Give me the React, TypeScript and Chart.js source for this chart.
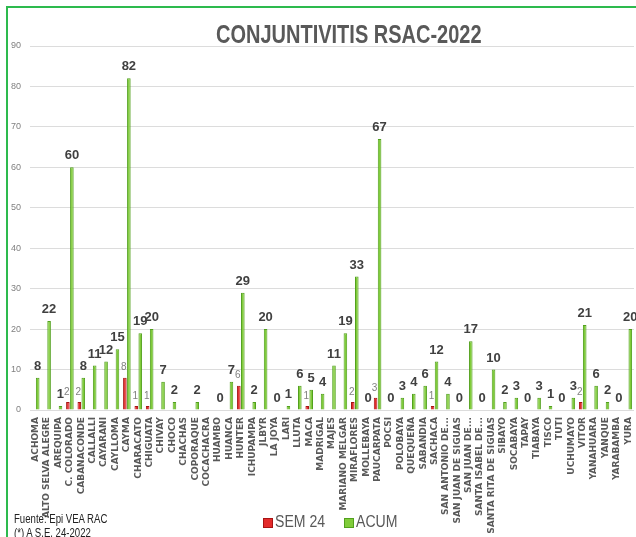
import React, { useEffect, useRef } from "react";
import { Chart, registerables } from "chart.js";

Chart.register(...registerables);

const categories = [
  "ACHOMA", "ALTO SELVA ALEGRE", "AREQUIPA", "C. COLORADO", "CABANACONDE", "CALLALLI",
  "CAYARANI", "CAYLLOMA", "CAYMA", "CHARACATO", "CHIGUATA", "CHIVAY", "CHOCO", "CHACHAS",
  "COPORAQUE", "COCACHACRA", "HUAMBO", "HUANCA", "HUNTER", "ICHUPAMPA", "JLBYR", "LA JOYA",
  "LARI", "LLUTA", "MACA", "MADRIGAL", "MAJES", "MARIANO MELGAR", "MIRAFLORES", "MOLLEBAYA",
  "PAUCARPATA", "POCSI", "POLOBAYA", "QUEQUEÑA", "SABANDIA", "SACHACA", "SAN ANTONIO DE...",
  "SAN JUAN DE SIGUAS", "SAN JUAN DE...", "SANTA ISABEL DE...", "SANTA RITA DE SIGUAS",
  "SIBAYO", "SOCABAYA", "TAPAY", "TIABAYA", "TISCO", "TUTI", "UCHUMAYO", "VITOR",
  "YANAHUARA", "YANQUE", "YARABAMBA", "YURA",
];

const sem24: (number | null)[] = [
  null, null, null, 2, 2, null, null, null, 8, 1, 1, null, null, null,
  null, null, null, null, 6, null, null, null,
  null, null, 1, null, null, null, 2, null,
  3, null, null, null, null, 1, null,
  null, null, null, null,
  null, null, null, null, null, null, null, 2,
  null, null, null, null,
];

const acum: (number | null)[] = [
  8, 22, 1, 60, 8, 11, 12, 15, 82, 19, 20, 7, 2, null,
  2, null, 0, 7, 29, 2, 20, 0,
  1, 6, 5, 4, 11, 19, 33, 0,
  67, 0, 3, 4, 6, 12, 4,
  0, 17, 0, 10,
  2, 3, 0, 3, 1, 0, 3, 21,
  6, 2, 0, 20,
];

const yTicks = [0, 10, 20, 30, 40, 50, 60, 70, 80, 90];

const SEM_FILL = "#e32b2b";
const SEM_EDGE = "#a81414";
const ACUM_FILL = "#80cc3a";
const ACUM_EDGE = "#52a01e";

const labelPlugin = {
  id: "valueLabels",
  afterDatasetsDraw(chart: any) {
    const ctx = chart.ctx;
    chart.data.datasets.forEach((ds: any, di: number) => {
      const meta = chart.getDatasetMeta(di);
      meta.data.forEach((el: any, i: number) => {
        const v = ds.data[i];
        if (v === null || v === undefined) return;
        ctx.save();
        ctx.textAlign = "center";
        ctx.textBaseline = "bottom";
        if (di === 1) {
          ctx.font = "bold 13px 'Liberation Sans', Arial, sans-serif";
          ctx.fillStyle = "#404040";
          ctx.fillText(String(v), el.x, el.y - 5);
        } else {
          ctx.font = "10px 'Liberation Sans', Arial, sans-serif";
          ctx.fillStyle = "#808080";
          ctx.fillText(String(v), el.x - 1, el.y - 5);
        }
        ctx.restore();
      });
    });
  },
};

const narrow = (scale: number): React.CSSProperties => ({
  display: "inline-block",
  transform: `scaleX(${scale})`,
  transformOrigin: "0 0",
  whiteSpace: "nowrap",
});

export default function App() {
  const canvasRef = useRef<HTMLCanvasElement | null>(null);

  useEffect(() => {
    if (!canvasRef.current) return;
    const chart = new Chart(canvasRef.current, {
      type: "bar",
      data: {
        labels: categories,
        datasets: [
          {
            label: "SEM 24",
            data: sem24,
            backgroundColor: SEM_FILL,
            borderColor: SEM_EDGE,
            borderWidth: 1,
          },
          {
            label: "ACUM",
            data: acum,
            backgroundColor: ACUM_FILL,
            borderColor: ACUM_EDGE,
            borderWidth: 1,
          },
        ],
      },
      options: {
        animation: false,
        responsive: false,
        maintainAspectRatio: false,
        layout: { padding: { top: 46, right: 2, left: 0, bottom: 0 } },
        datasets: { bar: { categoryPercentage: 0.7, barPercentage: 0.9 } },
        plugins: {
          legend: { display: false },
          title: { display: false },
          tooltip: { enabled: false },
        },
        scales: {
          x: {
            grid: { display: false, drawTicks: false },
            border: { display: false },
            ticks: {
              autoSkip: false,
              maxRotation: 90,
              minRotation: 90,
              padding: 7,
              color: "#595959",
              font: { family: "'DejaVu Sans', Verdana, sans-serif", size: 9, weight: "bold" },
            },
            afterFit(scale: any) {
              scale.height = 127;
              scale.paddingLeft = 0;
              scale.paddingRight = 0;
            },
          },
          y: {
            min: 0,
            max: 90,
            afterBuildTicks(scale: any) {
              scale.ticks = yTicks.map((v) => ({ value: v }));
            },
            grid: { color: "#dcdcdc", lineWidth: 1, drawTicks: false },
            border: { display: false },
            ticks: {
              padding: 9,
              color: "#808080",
              font: { family: "'Liberation Sans', Arial, sans-serif", size: 9 },
            },
            afterFit(scale: any) {
              scale.width = 30;
            },
          },
        },
      },
      plugins: [labelPlugin],
    });
    return () => chart.destroy();
  }, []);

  const legendFont: React.CSSProperties = {
    fontFamily: "'Liberation Sans', Arial, sans-serif",
    fontSize: 16,
    lineHeight: "18px",
    color: "#595959",
  };

  return (
    <div
      style={{
        position: "absolute",
        left: 0,
        top: 0,
        width: 636,
        height: 537,
        background: "#ffffff",
        overflow: "hidden",
      }}
    >
      <canvas
        ref={canvasRef}
        width={636}
        height={537}
        style={{ position: "absolute", left: 0, top: 0, width: 636, height: 537 }}
      />
      <div
        style={{
          position: "absolute",
          left: 6,
          top: 6,
          width: 700,
          height: 700,
          borderLeft: "2px solid #2dba4e",
          borderTop: "2px solid #2dba4e",
          pointerEvents: "none",
        }}
      />
      <div
        style={{
          position: "absolute",
          left: 216,
          top: 20,
          fontFamily: "'Liberation Sans', Arial, sans-serif",
          fontWeight: "bold",
          fontSize: 25,
          color: "#595959",
        }}
      >
        <span style={narrow(0.8)}>CONJUNTIVITIS RSAC-2022</span>
      </div>
      <div
        style={{
          position: "absolute",
          left: 14,
          top: 512,
          fontFamily: "'Liberation Sans', Arial, sans-serif",
          fontSize: 12,
          lineHeight: "14px",
          color: "#222222",
        }}
      >
        <div><span style={narrow(0.8)}>Fuente: Epi VEA RAC</span></div>
        <div><span style={narrow(0.8)}>(*) A S.E. 24-2022</span></div>
      </div>
      <div style={{ position: "absolute", left: 263, top: 518, width: 8, height: 8, background: SEM_FILL, border: `1px solid ${SEM_EDGE}` }} />
      <div style={{ position: "absolute", left: 275, top: 513, ...legendFont }}>
        <span style={narrow(0.88)}>SEM 24</span>
      </div>
      <div style={{ position: "absolute", left: 344, top: 518, width: 8, height: 8, background: ACUM_FILL, border: `1px solid ${ACUM_EDGE}` }} />
      <div style={{ position: "absolute", left: 356, top: 513, ...legendFont }}>
        <span style={narrow(0.88)}>ACUM</span>
      </div>
    </div>
  );
}
